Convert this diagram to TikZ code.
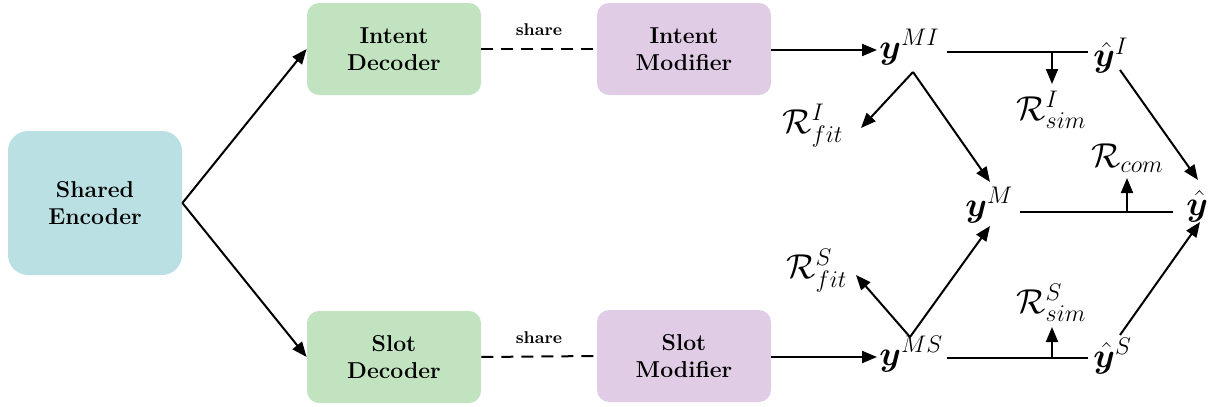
\documentclass[tikz,border=0pt]{standalone}
\usepackage{amsmath,bm}
\usetikzlibrary{arrows.meta}
\DeclareMathSizes{16}{16}{13}{10}
\definecolor{enccol}{HTML}{BBE0E3}
\definecolor{deccol}{HTML}{C2E3C0}
\definecolor{modcol}{HTML}{E1CCE6}
\begin{document}
\begin{tikzpicture}[x=0.5pt,y=-0.5pt,
  boxbase/.style={align=center,inner sep=0pt,font=\fontsize{11.5}{13.5}\selectfont\bfseries},
  encbox/.style={boxbase,fill=enccol,rounded corners=10pt,minimum width=87pt,minimum height=72pt},
  decbox/.style={boxbase,fill=deccol,rounded corners=6pt,minimum width=87pt,minimum height=46pt},
  modbox/.style={boxbase,fill=modcol,rounded corners=6pt,minimum width=87pt,minimum height=46pt},
  mth/.style={inner sep=0pt,anchor=base west,font=\fontsize{16}{18}\selectfont},
  conn/.style={line width=1pt},
  arr/.style={conn,-{Triangle[length=7.5pt,width=6pt]}},
  sharel/.style={font=\fontsize{8.5}{10}\selectfont\bfseries,inner sep=0pt}]
\useasboundingbox (0,0) rectangle (1217,407);
% boxes
\node[encbox] (enc) at (95,203) {Shared\\Encoder};
\node[decbox] (idec) at (394,49) {Intent\\Decoder};
\node[modbox] (imod) at (684,49) {Intent\\Modifier};
\node[decbox] (sdec) at (394,357) {Slot\\Decoder};
\node[modbox] (smod) at (684,356) {Slot\\Modifier};
% encoder to decoders
\draw[arr] (enc.east) -- (idec.west);
\draw[arr] (enc.east) -- (sdec.west);
% share lines
\draw[conn,dash pattern=on 6pt off 4pt] (idec.east) -- node[sharel,above=6pt] (sh1) {share} (imod.west);
\draw[conn,dash pattern=on 6pt off 4pt] (sdec.east) -- node[sharel,above=6pt] (sh2) {share} (smod.west);
% math nodes
\node[mth] (yMI) at (879,58) {$\bm{y}^{MI}$};
\node[mth] (yhI) at (1093,67) {$\hat{\bm{y}}^{I}$};
\node[mth] (RfitI) at (782,133) {$\mathcal{R}^{I}_{fit}$};
\node[mth] (RsimI) at (1016,120) {$\mathcal{R}^{I}_{sim}$};
\node[mth] (yM) at (965,216) {$\bm{y}^{M}$};
\node[mth] (yh) at (1186,215) {$\hat{\bm{y}}$};
\node[mth] (Rcom) at (1091,167) {$\mathcal{R}_{com}$};
\node[mth] (yMS) at (879,365) {$\bm{y}^{MS}$};
\node[mth] (yhS) at (1093,367) {$\hat{\bm{y}}^{S}$};
\node[mth] (RfitS) at (786,278) {$\mathcal{R}^{S}_{fit}$};
\node[mth] (RsimS) at (1016,313) {$\mathcal{R}^{S}_{sim}$};
% junction coordinates
\coordinate (m1) at (877,50);
\coordinate (m3) at (877,357);
\coordinate (a1s) at (947,52);
\coordinate (a1e) at (1088,52);
\coordinate (j1) at (1052,52);
\coordinate (j1e) at (1052,84);
\coordinate (v1) at (913,72);
\coordinate (v1a) at (861,128);
\coordinate (v1b) at (990,182);
\coordinate (w1) at (1120,70);
\coordinate (w1e) at (1198,180);
\coordinate (a2s) at (1020,212);
\coordinate (a2e) at (1173,212);
\coordinate (j2) at (1127,212);
\coordinate (j2e) at (1127,178);
\coordinate (a3s) at (947,358);
\coordinate (a3e) at (1088,358);
\coordinate (j3) at (1052,358);
\coordinate (j3e) at (1052,327);
\coordinate (v3) at (910,337);
\coordinate (v3a) at (856,275);
\coordinate (v3b) at (990,226);
\coordinate (w3) at (1120,335);
\coordinate (w3e) at (1200,222);
% connectors
\draw[arr] (imod.east |- m1) -- (m1);
\draw[arr] (smod.east |- m3) -- (m3);
\draw[conn] (a1s) -- (a1e);
\draw[arr] (j1) -- (j1e);
\draw[arr] (v1) -- (v1a);
\draw[arr] (v1) -- (v1b);
\draw[arr] (w1) -- (w1e);
\draw[conn] (a2s) -- (a2e);
\draw[arr] (j2) -- (j2e);
\draw[conn] (a3s) -- (a3e);
\draw[arr] (j3) -- (j3e);
\draw[arr] (v3) -- (v3a);
\draw[arr] (v3) -- (v3b);
\draw[arr] (w3) -- (w3e);
\end{tikzpicture}
\end{document}
